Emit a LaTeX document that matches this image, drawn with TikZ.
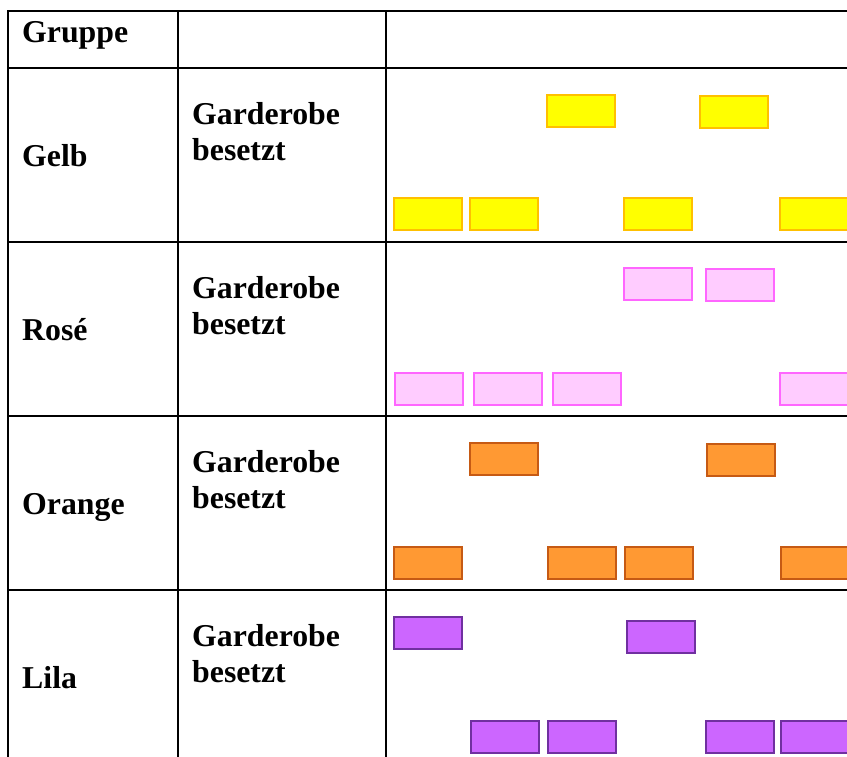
\documentclass[tikz,border=0pt]{standalone}
\usepackage{fontspec}
\setmainfont{Liberation Serif}
\usepackage{tikz}
\definecolor{gelbfill}{HTML}{FFFF00}
\definecolor{gelbline}{HTML}{FFC000}
\definecolor{rosefill}{HTML}{FFCCFF}
\definecolor{roseline}{HTML}{FF66FF}
\definecolor{orangefill}{HTML}{FF9933}
\definecolor{orangeline}{HTML}{C65A14}
\definecolor{lilafill}{HTML}{CC66FF}
\definecolor{lilaline}{HTML}{7030A0}
\begin{document}
\begin{tikzpicture}[x=1pt,y=-1pt]
\tikzstyle{label} = [anchor=base west,inner sep=0pt,font=\fontsize{31.8}{36}\selectfont\bfseries];
\tikzstyle{slot} = [draw,line width=2.4pt,minimum width=67.6pt,minimum height=31.6pt,inner sep=0pt,anchor=north west];
\tikzstyle{grid} = [line width=1.8pt];
\useasboundingbox (0,0) rectangle (847,756);
\clip (0,0) rectangle (847,756);

% table
\draw[grid] (8,11) rectangle (880,790);
\draw[grid] (178,11) -- (178,790);
\draw[grid] (386,11) -- (386,790);
\foreach \y in {68,242,416,590}
  \draw[grid] (8,\y) -- (880,\y);

\node[label] (head) at (22,42) {Gruppe};
\foreach \i/\grp/\top in {1/Gelb/68,2/Rosé/242,3/Orange/416,4/Lila/590} {
  \node[label] (grp\i) at (22,\top+98) {\grp};
  \node[label] (gard\i) at (192,\top+56) {Garderobe};
  \node[label] (bes\i) at (192,\top+92) {besetzt};
}

% Gelb
\foreach \x/\y [count=\n] in {545/93,698/94,392/196,468/196,622/196,778/196}
  \node[slot,fill=gelbfill,draw=gelbline] (gelb\n) at (\x+1,\y+1) {};
% Rose
\foreach \x/\y [count=\n] in {622/266,704/267,393/371,472/371,551/371,778/371}
  \node[slot,fill=rosefill,draw=roseline] (rose\n) at (\x+1,\y+1) {};
% Orange
\foreach \x/\y [count=\n] in {468/441,705/442,392/545,546/545,623/545,779/545}
  \node[slot,fill=orangefill,draw=orangeline] (orange\n) at (\x+1,\y+1) {};
% Lila
\foreach \x/\y [count=\n] in {392/615,625/619,469/719,546/719,704/719,779/719}
  \node[slot,fill=lilafill,draw=lilaline] (lila\n) at (\x+1,\y+1) {};

\end{tikzpicture}
\end{document}
